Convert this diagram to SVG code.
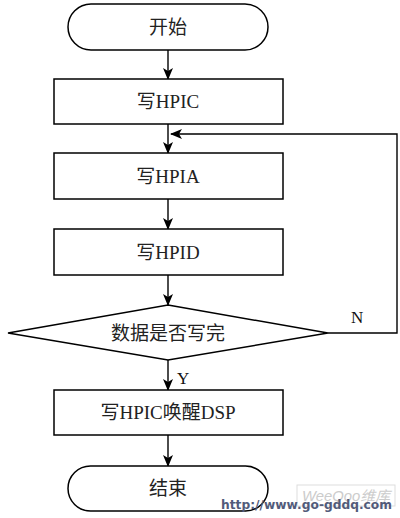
<svg xmlns="http://www.w3.org/2000/svg" width="400" height="518" viewBox="0 0 400 518">
<style>
.s{fill:#fff;stroke:#000;stroke-width:1.5}
.c{fill:none;stroke:#000;stroke-width:1.4}
.t{font-family:"Liberation Serif","Noto Sans CJK SC",serif;font-size:19px;fill:#222;text-anchor:middle}
.l{font-family:"Liberation Serif",serif;font-size:17px;fill:#111}
</style>
<defs>
<marker id="a" viewBox="0 0 12 10" refX="11" refY="5" markerWidth="12" markerHeight="10" markerUnits="userSpaceOnUse" orient="auto">
<path d="M0,0 L12,5 L0,10 L3,5 Z" fill="#000"/>
</marker>
</defs>
<rect width="400" height="518" fill="#fff"/>
<g id="connectors">
<line class="c" x1="168" y1="50" x2="168" y2="79" marker-end="url(#a)"/>
<line class="c" x1="168" y1="124" x2="168" y2="153" marker-end="url(#a)"/>
<line class="c" x1="168" y1="199" x2="168" y2="229" marker-end="url(#a)"/>
<line class="c" x1="168" y1="275" x2="168" y2="305" marker-end="url(#a)"/>
<line class="c" x1="168" y1="360" x2="168" y2="390" marker-end="url(#a)"/>
<line class="c" x1="168" y1="435" x2="168" y2="466" marker-end="url(#a)"/>
<polyline class="c" points="328,333 397,333 397,134 171,134" marker-end="url(#a)"/>
<text class="l" x="351" y="323">N</text>
<text class="l" x="177" y="384">Y</text>
</g>
<g id="start">
<rect class="s" x="68" y="4" width="200" height="46" rx="23"/>
<text class="t" x="168" y="34">开始</text>
</g>
<g id="hpic">
<rect class="s" x="54" y="79" width="229" height="45"/>
<text class="t" x="168" y="108">写HPIC</text>
</g>
<g id="hpia">
<rect class="s" x="54" y="153" width="229" height="46"/>
<text class="t" x="168" y="183">写HPIA</text>
</g>
<g id="hpid">
<rect class="s" x="54" y="229" width="229" height="46"/>
<text class="t" x="168" y="259">写HPID</text>
</g>
<g id="decision">
<polygon class="s" points="168,305 328,333 168,360 8,333"/>
<text class="t" x="168" y="340">数据是否写完</text>
</g>
<g id="wake">
<rect class="s" x="54" y="390" width="229" height="45"/>
<text class="t" x="168" y="419">写HPIC唤醒DSP</text>
</g>
<g id="end">
<rect class="s" x="68" y="466" width="200" height="45" rx="22.5"/>
<text class="t" x="168" y="495">结束</text>
</g>
<g id="watermark">
<rect x="297" y="485" width="98" height="21" fill="none" stroke="#ddd" stroke-width="1"/>
<text x="302" y="501" font-family="'Liberation Sans','Noto Sans CJK SC',sans-serif" font-size="14" font-style="italic" fill="#cccccc" textLength="88" lengthAdjust="spacingAndGlyphs">WeeQoo维库</text>
<text x="221" y="509" font-family="'DejaVu Sans',sans-serif" font-size="13" font-weight="bold" fill="#525b7a" textLength="171" lengthAdjust="spacingAndGlyphs">http://www.go-gddq.com</text>
</g>
</svg>
